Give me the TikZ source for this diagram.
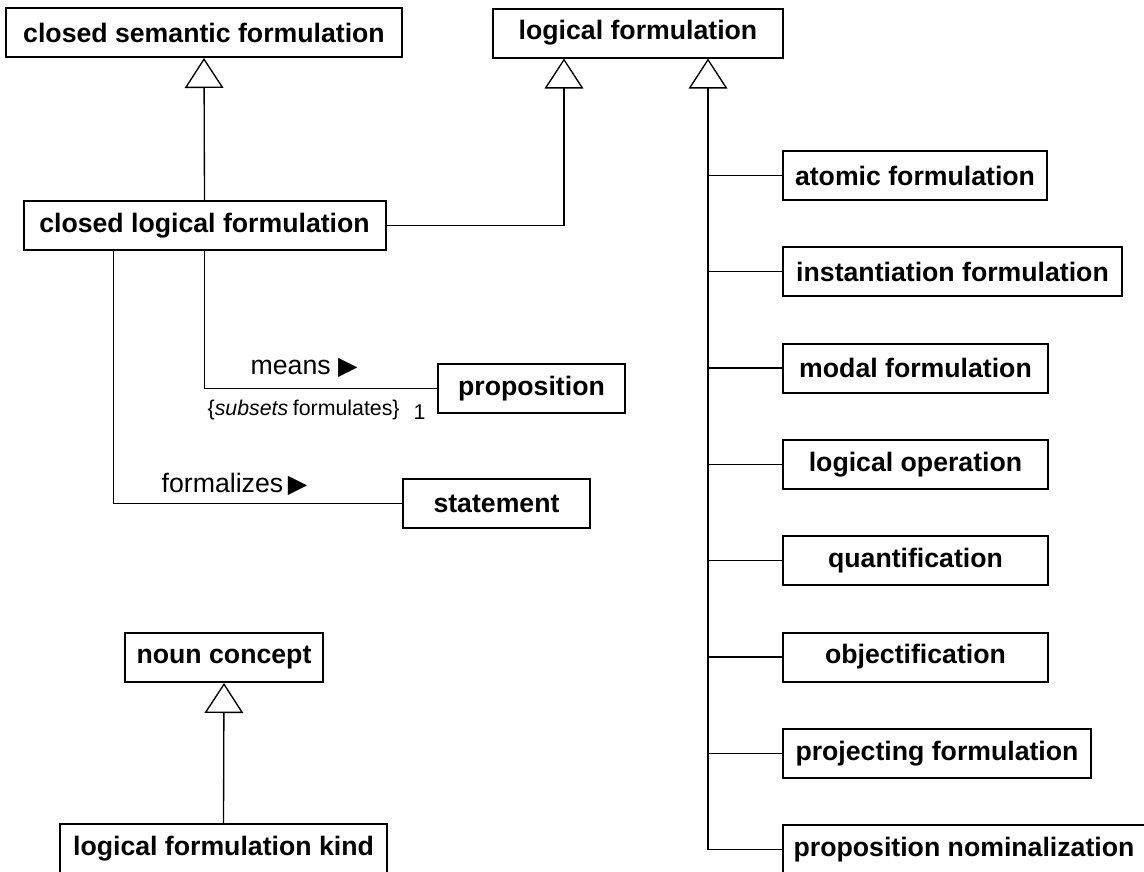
\documentclass[tikz,border=0pt]{standalone}
\usepackage{fontspec}
\setmainfont{Liberation Sans}
\newfontfamily\symfont{DejaVu Sans}
\usetikzlibrary{arrows.meta}

\tikzset{every picture/.style={line width=1pt}}
\tikzset{
  concept/.style={draw, line width=1.5pt, font=\fontsize{20}{24}\selectfont\bfseries, minimum height=36.75pt, inner sep=0pt, align=center},
  boxw/.style={minimum width=#1*0.75pt},
  gen/.style={line width=1pt, -{Triangle[open, length=22.5pt, width=29pt]}},
  assoc/.style={line width=1pt},
  verb/.style={font=\fontsize{20}{24}\selectfont, inner sep=0pt},
  note/.style={font=\fontsize{16}{19}\selectfont, inner sep=0pt}
}
\newcommand{\readdir}{{\symfont\fontsize{19}{24}\selectfont ▶}}

\begin{document}
\begin{tikzpicture}[x=0.75pt,y=-0.75pt]
\path[use as bounding box] (0,0) rectangle (1144,871);
\clip (0,0) rectangle (1144,871);

%Shape: concepts, left side
\node[concept, boxw=396] (semform) at (204,32.5) {closed semantic formulation};
\node[concept, boxw=290] (logform) at (638,33) {logical formulation};
\node[concept, boxw=362] (closedlog) at (204.5,225.5) {closed logical formulation};
\node[concept, boxw=187] (prop) at (531.5,388.5) {proposition};
\node[concept, boxw=187] (stmt) at (496.5,503.5) {statement};
\node[concept, boxw=198] (noun) at (224,657.5) {noun concept};
\node[concept, boxw=327] (lfk) at (223.5,848.5) {logical formulation kind};

%Shape: concepts, right column
\foreach \nm/\txt/\w [count=\i from 0] in {atom/atomic formulation/264, inst/instantiation formulation/339, modal/modal formulation/265, logop/logical operation/265, quant/quantification/265, objec/objectification/265, proj/projecting formulation/308, pn/proposition nominalization/362}
  \node[concept, boxw=\w, anchor=west] (\nm) at (782,{175.5+96.3*\i}) {\txt};

%Generalization lines
\draw[gen] (closedlog.north) -- (semform.south);
\draw[gen] (closedlog.east) -| ([xshift=54pt]logform.south west);
\coordinate (trunk) at ([xshift=162pt]logform.south west);
\draw[gen] (pn.west) -| (trunk);
\foreach \nm in {atom,inst,modal,logop,quant,objec,proj}
  \draw[assoc] (\nm.west) -- (\nm.west -| trunk);
\draw[gen] (lfk.north) -- (noun.south);

%Fact types
\draw[assoc] (closedlog.south) |- (prop.west);
\draw[assoc] ([xshift=68.25pt]closedlog.south west) |- (stmt.west);

% Text Node
\node[verb, anchor=west] (meanslbl) at (250,368) {means \readdir};
% Text Node
\node[note, anchor=west] (subslbl) at (207,410) {\{\textit{subsets}\hspace{-1pt} formulates\}};
% Text Node
\node[note, anchor=west] (mult) at (413,412) {1};
% Text Node
\node[verb, anchor=west] (formlbl) at (161,484) {formalizes\hspace{-2pt} \readdir};

\end{tikzpicture}
\end{document}
